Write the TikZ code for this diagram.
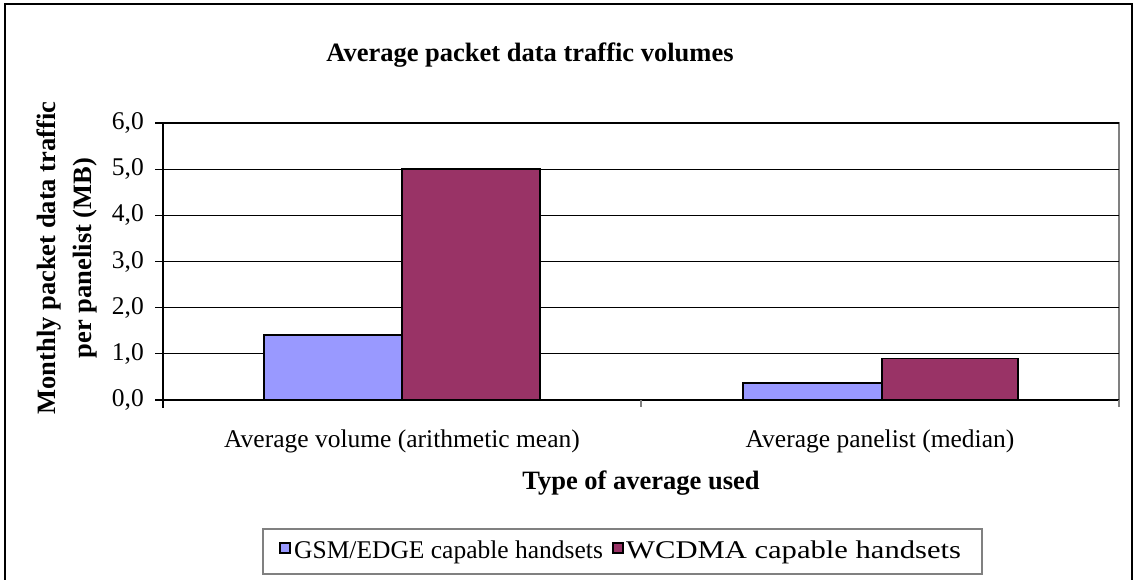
\documentclass[tikz,border=0pt]{standalone}
\usepackage{fontspec}
\setmainfont{Liberation Serif}
\definecolor{gsmblue}{HTML}{9999FF}
\definecolor{wcdmared}{HTML}{993366}

\begin{document}
\begin{tikzpicture}[x=1pt,y=-1pt,
    bar/.style={draw=black,line width=1.8pt},
    grid line/.style={draw=black,line width=1.2pt},
    ticklabel/.style={inner sep=0pt,font=\fontsize{25.5}{30}\selectfont},
    boldlabel/.style={inner sep=0pt,font=\fontsize{26.5}{36}\selectfont\bfseries}]

\useasboundingbox (0,0) rectangle (1137,580);

% outer frame, open at the bottom
\draw[line width=1.6pt] (5,600) -- (5,4) -- (1132,4) -- (1132,600);

\node[boldlabel,anchor=base] (title) at (530,62) {Average packet data traffic volumes};

% plot area: zero at y=400, 46.17 per MB
\begin{scope}

 \draw[gray,line width=1.6pt] (163,123) -- (1119,123) -- (1119,400);

 \foreach \v in {1,2,...,6}{%
     \draw[grid line] (155,{400-46.17*\v}) -- (1119,{400-46.17*\v});
  }

 \foreach \v in {0,1,...,6}{%
     \node[ticklabel,anchor=east] (t\v) at (144,{400-46.17*\v}) {\v,0};
  }

 % bars: blue = GSM/EDGE, red = WCDMA
 \draw[bar,fill=gsmblue] (264,400) rectangle (402,{400-46.17*1.4});
 \draw[bar,fill=wcdmared] (402,400) rectangle (540,{400-46.17*5.0});
 \draw[bar,fill=gsmblue] (743,400) rectangle (882,{400-46.17*0.37});
 \draw[bar,fill=wcdmared] (882,400) rectangle (1018,{400-46.17*0.9});

 % axes
 \draw[line width=1.6pt] (155,400) -- (1119,400);
 \draw[line width=1.6pt] (163,123) -- (163,408);
 \draw[gray,line width=2pt] (641,400) -- (641,407);
 \draw[gray,line width=2pt] (1119,400) -- (1119,407);

 \node[ticklabel,anchor=base] (cat1) at (402,447) {Average volume (arithmetic mean)};
 \node[ticklabel,anchor=base] (cat2) at (880,447) {Average panelist (median)};

\end{scope}

\node[boldlabel,anchor=base] (xtitle) at (641,489) {Type of average used};
\node[boldlabel,rotate=90,align=center] (ytitle) at (67,258)
  {Monthly packet data traffic\\per panelist (MB)};

% legend
\begin{scope}
 \draw[gray,line width=1.3pt] (263,529) rectangle (982,574);
 \draw[black,line width=1.2pt,fill=gsmblue] (280,543) rectangle (290,553);
 \node[ticklabel,anchor=base west] (leg1) at (294,558) {GSM/EDGE capable handsets};
 \draw[black,line width=1.2pt,fill=wcdmared] (613,543) rectangle (623,553);
 \node[ticklabel,anchor=base west] (leg2) at (626,558) {\scalebox{1.2}[1]{WCDMA capable handsets}};
\end{scope}

\end{tikzpicture}
\end{document}
